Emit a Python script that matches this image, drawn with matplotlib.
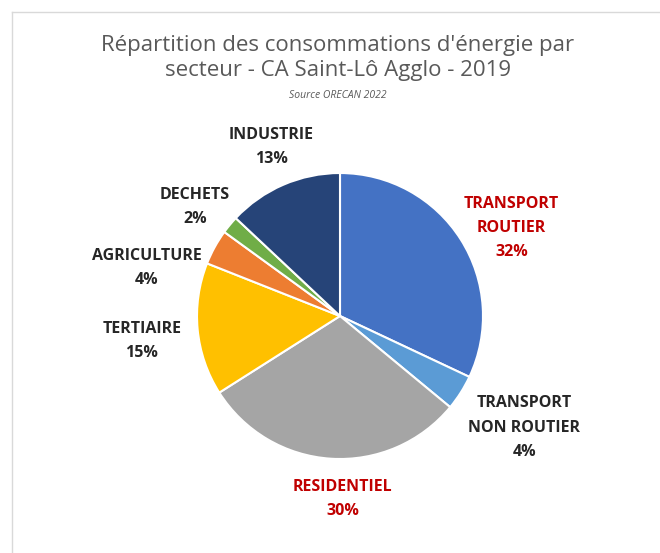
import matplotlib
matplotlib.use("Agg")
import matplotlib.pyplot as plt
from matplotlib.lines import Line2D

# data
sectors = ["TRANSPORT\nROUTIER", "TRANSPORT\nNON ROUTIER", "RESIDENTIEL", "TERTIAIRE",
           "AGRICULTURE", "DECHETS", "INDUSTRIE"]
shares = [32, 4, 30, 15, 4, 2, 13]
colors = ["#4472C4", "#5B9BD5", "#A5A5A5", "#FFC000", "#ED7D31", "#70AD47", "#264478"]
label_colors = ["#C00000", "#262626", "#C00000", "#262626", "#262626", "#262626", "#262626"]
# label anchor, in units of the pie radius
label_pos = [(1.20, 0.615), (1.29, -0.78), (0.02, -1.28), (-1.385, -0.175),
             (-1.35, 0.335), (-1.014, 0.762), (-0.48, 1.18)]

plt.rcParams["font.family"] = ["Open Sans", "DejaVu Sans"]

fig = plt.figure(figsize=(6.6, 5.53), dpi=100)
fig.patch.set_facecolor("white")

# faint chart frame
fig.add_artist(Line2D([12 / 660, 1], [1 - 12 / 553] * 2, color="#D9D9D9", lw=1))
fig.add_artist(Line2D([12 / 660] * 2, [0, 1 - 12 / 553], color="#D9D9D9", lw=1))

ax = fig.add_axes([0.1685, 0.0148, 0.6933, 0.8275])
ax.pie(shares, colors=colors, startangle=90, counterclock=False, radius=1,
       wedgeprops=dict(edgecolor="white", linewidth=1.5))
ax.set_xlim(-1.6, 1.6)
ax.set_ylim(-1.6, 1.6)
ax.set_aspect("equal")
ax.axis("off")

for name, val, (x, y), c in zip(sectors, shares, label_pos, label_colors):
    ax.text(x, y, f"{name}\n{val}%", ha="center", va="center", fontsize=11.5,
            fontweight="bold", color=c, linespacing=1.7)

fig.text(338 / 660, 1 - 58 / 553,
         "Répartition des consommations d'énergie par\nsecteur - CA Saint-Lô Agglo - 2019",
         ha="center", va="center", fontsize=16, color="#595959", linespacing=1.3)
fig.text(338 / 660, 1 - 96 / 553, "Source ORECAN 2022", ha="center", va="center",
         fontsize=7.5, style="italic", color="#595959")

fig.savefig("out.png", dpi=100)
